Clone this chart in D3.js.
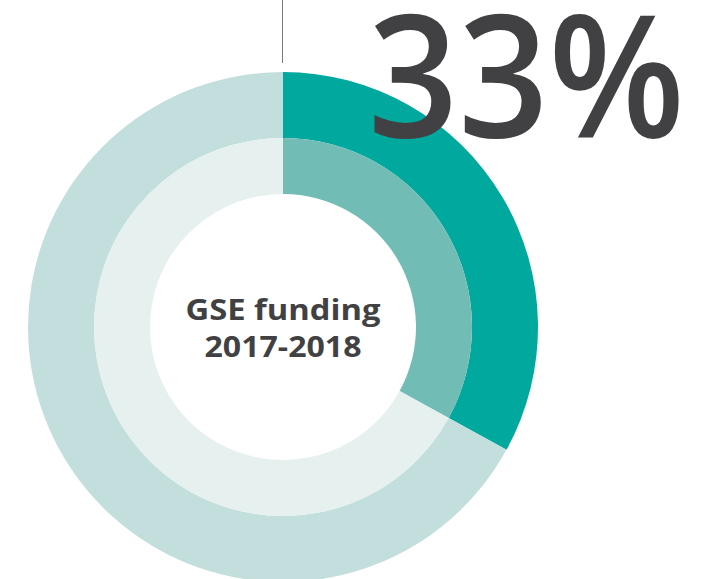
<!DOCTYPE html>
<html><head><meta charset="utf-8">
<script src="https://cdn.jsdelivr.net/npm/d3@7"></script>
<style>html,body{margin:0;padding:0;background:#fff;overflow:hidden}</style>
</head><body>
<svg id="c" width="712" height="579"></svg>
<script>
const categories = ["GSE funding", "Other"];
const outerValues = [33, 67];
const innerValues = [33, 67];
const outerColors = ["#00a89e", "#c3dfdd"];
const innerColors = ["#72bcb6", "#e6f0ef"];
const bigLabel = "33%";
const centerLines = ["GSE funding", "2017-2018"];

const svg = d3.select("#c");
const cx = 283, cy = 327;
const g = svg.append("g").attr("transform", `translate(${cx},${cy})`);
const pie = d3.pie().sort(null).value(d => d);
const outerArc = d3.arc().innerRadius(189).outerRadius(255);
const innerArc = d3.arc().innerRadius(133).outerRadius(189);

g.selectAll("path.o").data(pie(outerValues)).join("path").attr("class","o")
  .attr("d", outerArc).attr("fill", (d,i) => outerColors[i]);
g.selectAll("path.i").data(pie(innerValues)).join("path").attr("class","i")
  .attr("d", innerArc).attr("fill", (d,i) => innerColors[i]);

svg.append("line").attr("x1",282.5).attr("x2",282.5).attr("y1",0).attr("y2",63)
  .attr("stroke","#7a7a7a").attr("stroke-width",1);

const big = svg.append("text").attr("x",368).attr("y",137)
  .attr("font-family","'Open Sans', Lato, sans-serif").attr("font-weight",600)
  .attr("font-size",170)
  .attr("fill","#414143").text(bigLabel)
  .attr("textLength", 317).attr("lengthAdjust","spacingAndGlyphs");

const ct = svg.append("text").attr("text-anchor","middle")
  .attr("font-family","'Open Sans', Lato, sans-serif").attr("font-weight",700)
  .attr("font-size",29).attr("fill","#414143");
const widths = [195, 157];
centerLines.forEach((t,i) => ct.append("tspan").attr("x",cx).attr("y",320 + i*37)
  .attr("textLength", widths[i]).attr("lengthAdjust","spacingAndGlyphs").text(t));
</script>
</body></html>
